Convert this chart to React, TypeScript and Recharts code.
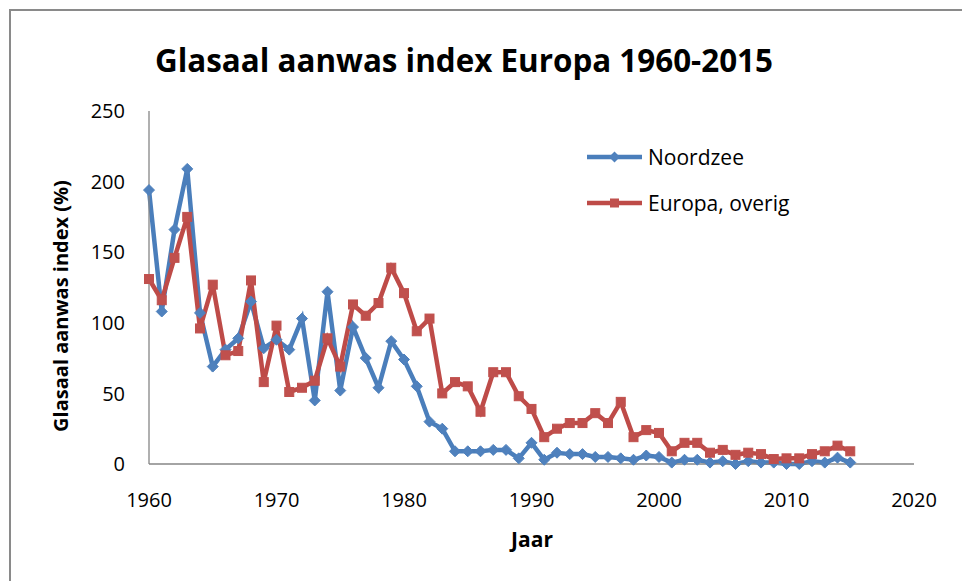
import React from "react";
import { LineChart, Line, XAxis, YAxis, Legend } from "recharts";

const years = [
  1960, 1961, 1962, 1963, 1964, 1965, 1966, 1967, 1968, 1969,
  1970, 1971, 1972, 1973, 1974, 1975, 1976, 1977, 1978, 1979,
  1980, 1981, 1982, 1983, 1984, 1985, 1986, 1987, 1988, 1989,
  1990, 1991, 1992, 1993, 1994, 1995, 1996, 1997, 1998, 1999,
  2000, 2001, 2002, 2003, 2004, 2005, 2006, 2007, 2008, 2009,
  2010, 2011, 2012, 2013, 2014, 2015,
];

const noordzee = [
  194, 108, 166, 209, 107, 69, 81, 89, 115, 82,
  88, 81, 103, 45, 122, 52, 97, 75, 54, 87,
  74, 55, 30, 25, 9, 9, 9, 10, 10, 4,
  15, 3, 8, 7, 7, 5, 5, 4, 3, 6,
  5, 1, 3, 3, 1, 2, 0, 2, 1, 1,
  0, 0, 2, 1, 4.5, 1,
];

const europaOverig = [
  131, 116, 146, 175, 96, 127, 77, 80, 130, 58,
  98, 51, 54, 59, 89, 69, 113, 105, 114, 139,
  121, 94, 103, 50, 58, 55, 37, 65, 65, 48,
  39, 19, 25, 29, 29, 36, 29, 44, 19, 24,
  22, 9, 15, 15, 8, 10, 6.5, 8, 7, 3.5,
  4, 4, 7, 9, 13, 9,
];

const xTicks = [1960, 1970, 1980, 1990, 2000, 2010, 2020];
const yTicks = [0, 50, 100, 150, 200, 250];

const seriesNames = ["Noordzee", "Europa, overig"];
const title = "Glasaal aanwas index Europa 1960-2015";
const yTitle = "Glasaal aanwas index (%)";
const xTitle = "Jaar";

const rows = years.map((y, i) => ({
  year: y,
  noordzee: noordzee[i],
  europa: europaOverig[i],
}));

const FONT = "'Open Sans', 'Liberation Sans', sans-serif";
const BLUE_LINE = "#4A7EBB";
const BLUE_MARK = "#4F81BD";
const RED_LINE = "#BE4B48";
const RED_MARK = "#C0504D";

const Diamond = (p: any) => {
  const { cx, cy, index } = p;
  if (cx == null || cy == null) return <g key={index} />;
  const r = 5.5;
  return (
    <path
      key={index}
      d={`M${cx},${cy - r} L${cx + r},${cy} L${cx},${cy + r} L${cx - r},${cy} Z`}
      fill={BLUE_MARK}
      stroke={BLUE_MARK}
      strokeWidth={1}
    />
  );
};

const Square = (p: any) => {
  const { cx, cy, index } = p;
  if (cx == null || cy == null) return <g key={index} />;
  const s = 4.5;
  return (
    <rect
      key={index}
      x={cx - s}
      y={cy - s}
      width={2 * s}
      height={2 * s}
      fill={RED_MARK}
      stroke={RED_MARK}
      strokeWidth={1}
    />
  );
};

const LegendContent = () => (
  <svg width={240} height={90} style={{ display: "block" }}>
    <g>
      <line x1={0} y1={17} x2={55} y2={17} stroke={BLUE_LINE} strokeWidth={4.5} />
      <path d="M27.5,11.5 L33,17 L27.5,22.5 L22,17 Z" fill={BLUE_MARK} />
      <text x={61} y={25} fontFamily={FONT} fontSize={21} fill="#000">
        {seriesNames[0]}
      </text>
    </g>
    <g>
      <line x1={0} y1={63} x2={55} y2={63} stroke={RED_LINE} strokeWidth={4.5} />
      <rect x={23} y={58.5} width={9} height={9} fill={RED_MARK} />
      <text x={61} y={71} fontFamily={FONT} fontSize={21} fill="#000">
        {seriesNames[1]}
      </text>
    </g>
  </svg>
);

const YTitle = () => (
  <text
    transform="translate(68,306) rotate(-90)"
    textAnchor="middle"
    fontFamily={FONT}
    fontWeight={700}
    fontSize={20}
    fill="#000"
  >
    {yTitle}
  </text>
);

const XTitle = () => (
  <text
    x={532}
    y={547}
    textAnchor="middle"
    fontFamily={FONT}
    fontWeight={700}
    fontSize={21}
    fill="#000"
  >
    {xTitle}
  </text>
);

export default function App() {
  return (
    <div
      style={{
        position: "absolute",
        left: 0,
        top: 0,
        width: 962,
        height: 581,
        overflow: "hidden",
        background: "#fff",
      }}
    >
      <div
        style={{
          position: "absolute",
          left: 9,
          top: 9,
          width: 953,
          height: 572,
          boxSizing: "border-box",
          borderLeft: "2px solid #8a8a8a",
          borderTop: "2px solid #8a8a8a",
        }}
      />
      <svg
        width={962}
        height={100}
        style={{ position: "absolute", left: 0, top: 0 }}
      >
        <text
          x={155}
          y={72}
          fontFamily={FONT}
          fontWeight={700}
          fontSize={33}
          textLength={618}
          lengthAdjust="spacingAndGlyphs"
          fill="#000"
        >
          {title}
        </text>
      </svg>
      <div style={{ position: "absolute", left: 0, top: 0 }}>
        <LineChart
          width={962}
          height={581}
          data={rows}
          margin={{ top: 111, right: 48, bottom: 27, left: 0 }}
        >
          <XAxis
            dataKey="year"
            type="number"
            domain={[1960, 2020]}
            ticks={xTicks}
            interval={0}
            height={90}
            tickLine={false}
            tickSize={0}
            tickMargin={29}
            axisLine={{ stroke: "#868686", strokeWidth: 1.3 }}
            tick={{ fontFamily: FONT, fontSize: 20, fill: "#000" }}
            label={<XTitle />}
          />
          <YAxis
            type="number"
            domain={[0, 250]}
            ticks={yTicks}
            interval={0}
            width={149}
            tickLine={false}
            tickSize={0}
            tickMargin={24}
            axisLine={{ stroke: "#868686", strokeWidth: 1.3 }}
            tick={{ fontFamily: FONT, fontSize: 20, fill: "#000" }}
            label={<YTitle />}
          />
          <Legend
            verticalAlign="middle"
            align="center"
            layout="horizontal"
            wrapperStyle={{ position: "absolute", left: 587, top: 140, width: 240, height: 90 }}
            content={<LegendContent />}
          />
          <Line
            type="linear"
            dataKey="noordzee"
            name={seriesNames[0]}
            stroke={BLUE_LINE}
            strokeWidth={4.5}
            dot={Diamond}
            activeDot={false}
            isAnimationActive={false}
          />
          <Line
            type="linear"
            dataKey="europa"
            name={seriesNames[1]}
            stroke={RED_LINE}
            strokeWidth={4.5}
            dot={Square}
            activeDot={false}
            isAnimationActive={false}
          />
        </LineChart>
      </div>
    </div>
  );
}
